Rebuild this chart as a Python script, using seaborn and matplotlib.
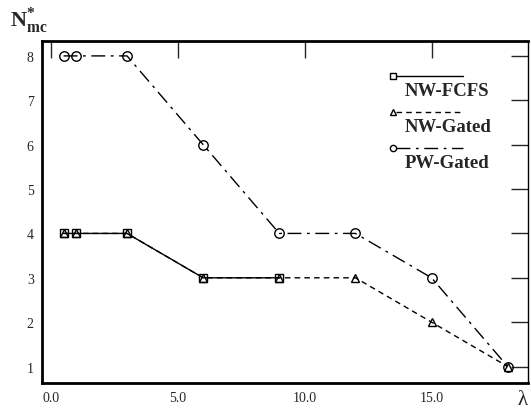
import matplotlib
matplotlib.use("Agg")
import matplotlib.pyplot as plt
import seaborn as sns
import pandas as pd
from matplotlib.lines import Line2D

# Arrival rate and optimal number of channels for each policy
lam_fcfs = [0.5, 1, 3, 6, 9]
n_fcfs = [4, 4, 4, 3, 3]
lam_gated = [0.5, 1, 3, 6, 9, 12, 15, 18]
n_nw_gated = [4, 4, 4, 3, 3, 3, 2, 1]
n_pw_gated = [8, 8, 8, 6, 4, 4, 3, 1]

x_ticks = [0, 5, 10, 15]
x_tick_labels = ["0.0", "5.0", "10.0", "15.0"]
y_ticks = [1, 2, 3, 4, 5, 6, 7, 8]

sns.set_style("white")
plt.rcParams["font.family"] = ["Liberation Serif", "DejaVu Serif"]
plt.rcParams["mathtext.fontset"] = "custom"
plt.rcParams["mathtext.rm"] = "Liberation Serif"
plt.rcParams["mathtext.bf"] = "Liberation Serif:bold"

fig = plt.figure(figsize=(5.31, 4.14), dpi=100)
ax = fig.add_axes([0.0791, 0.0725, 0.9153, 0.8265])

series = [
    ("NW-FCFS", lam_fcfs, n_fcfs, "s", None, 6.3),
    ("NW-Gated", lam_gated, n_nw_gated, "^", (4, 3), 6.0),
    ("PW-Gated", lam_gated, n_pw_gated, "o", (10, 4, 2, 4), 6.8),
]

# PW first so the squares and triangles sit on top of it
for name, xs, ys, mk, dash, ms in reversed(series):
    df = pd.DataFrame({"lam": xs, "n": ys})
    sns.lineplot(data=df, x="lam", y="n", ax=ax, color="black", lw=1.0,
                 marker=mk, markersize=ms, markerfacecolor="none",
                 markeredgecolor="black", markeredgewidth=1.0, legend=False)
    if dash:
        ax.lines[-1].set_dashes(dash)

ax.set_xlim(-0.35, 18.8)
ax.set_ylim(0.63, 8.34)
ax.set_xticks(x_ticks)
ax.set_xticklabels(x_tick_labels)
ax.set_yticks(y_ticks)
ax.set_xlabel("")
ax.set_ylabel("")
ax.tick_params(axis="both", which="major", direction="in", length=12,
               width=1.0, labelsize=10, top=True, right=True)
ax.tick_params(axis="y", pad=6)
ax.tick_params(axis="x", pad=6)

for side in ["left", "bottom", "top"]:
    ax.spines[side].set_linewidth(2.0)
ax.spines["right"].set_linewidth(1.0)
for s in ax.spines.values():
    s.set_color("black")

# y-axis title N*_mc at the top-left corner
H = 414.0
fig.text(10 / 531, 1 - 27 / H, r"$\mathbf{N}^{\mathbf{*}}_{\mathbf{mc}}$",
         fontsize=16, ha="left", va="baseline")
fig.text(0.985, 0.033, "λ", fontsize=15, ha="center", va="center")

# legend: marker and line sample on top, bold label beneath
leg_x0, leg_x1 = 0.722, 0.866
leg_y = [0.898, 0.793, 0.688]
for (name, xs, ys, mk, dash, ms), yy in zip(series, leg_y):
    ln = Line2D([leg_x0 + 0.007, leg_x1], [yy, yy], transform=ax.transAxes,
                color="black", lw=1.0)
    if dash:
        ln.set_dashes(dash)
    ax.add_line(ln)
    ax.add_line(Line2D([leg_x0], [yy], transform=ax.transAxes, marker=mk,
                       markersize=4.5, markerfacecolor="white",
                       markeredgecolor="black", markeredgewidth=1.0,
                       linestyle="none"))
    ax.text(leg_x0 + 0.025, yy - 0.043, name, transform=ax.transAxes,
            fontsize=13.5, fontweight="bold", ha="left", va="center")

fig.savefig("out.png", dpi=100)
